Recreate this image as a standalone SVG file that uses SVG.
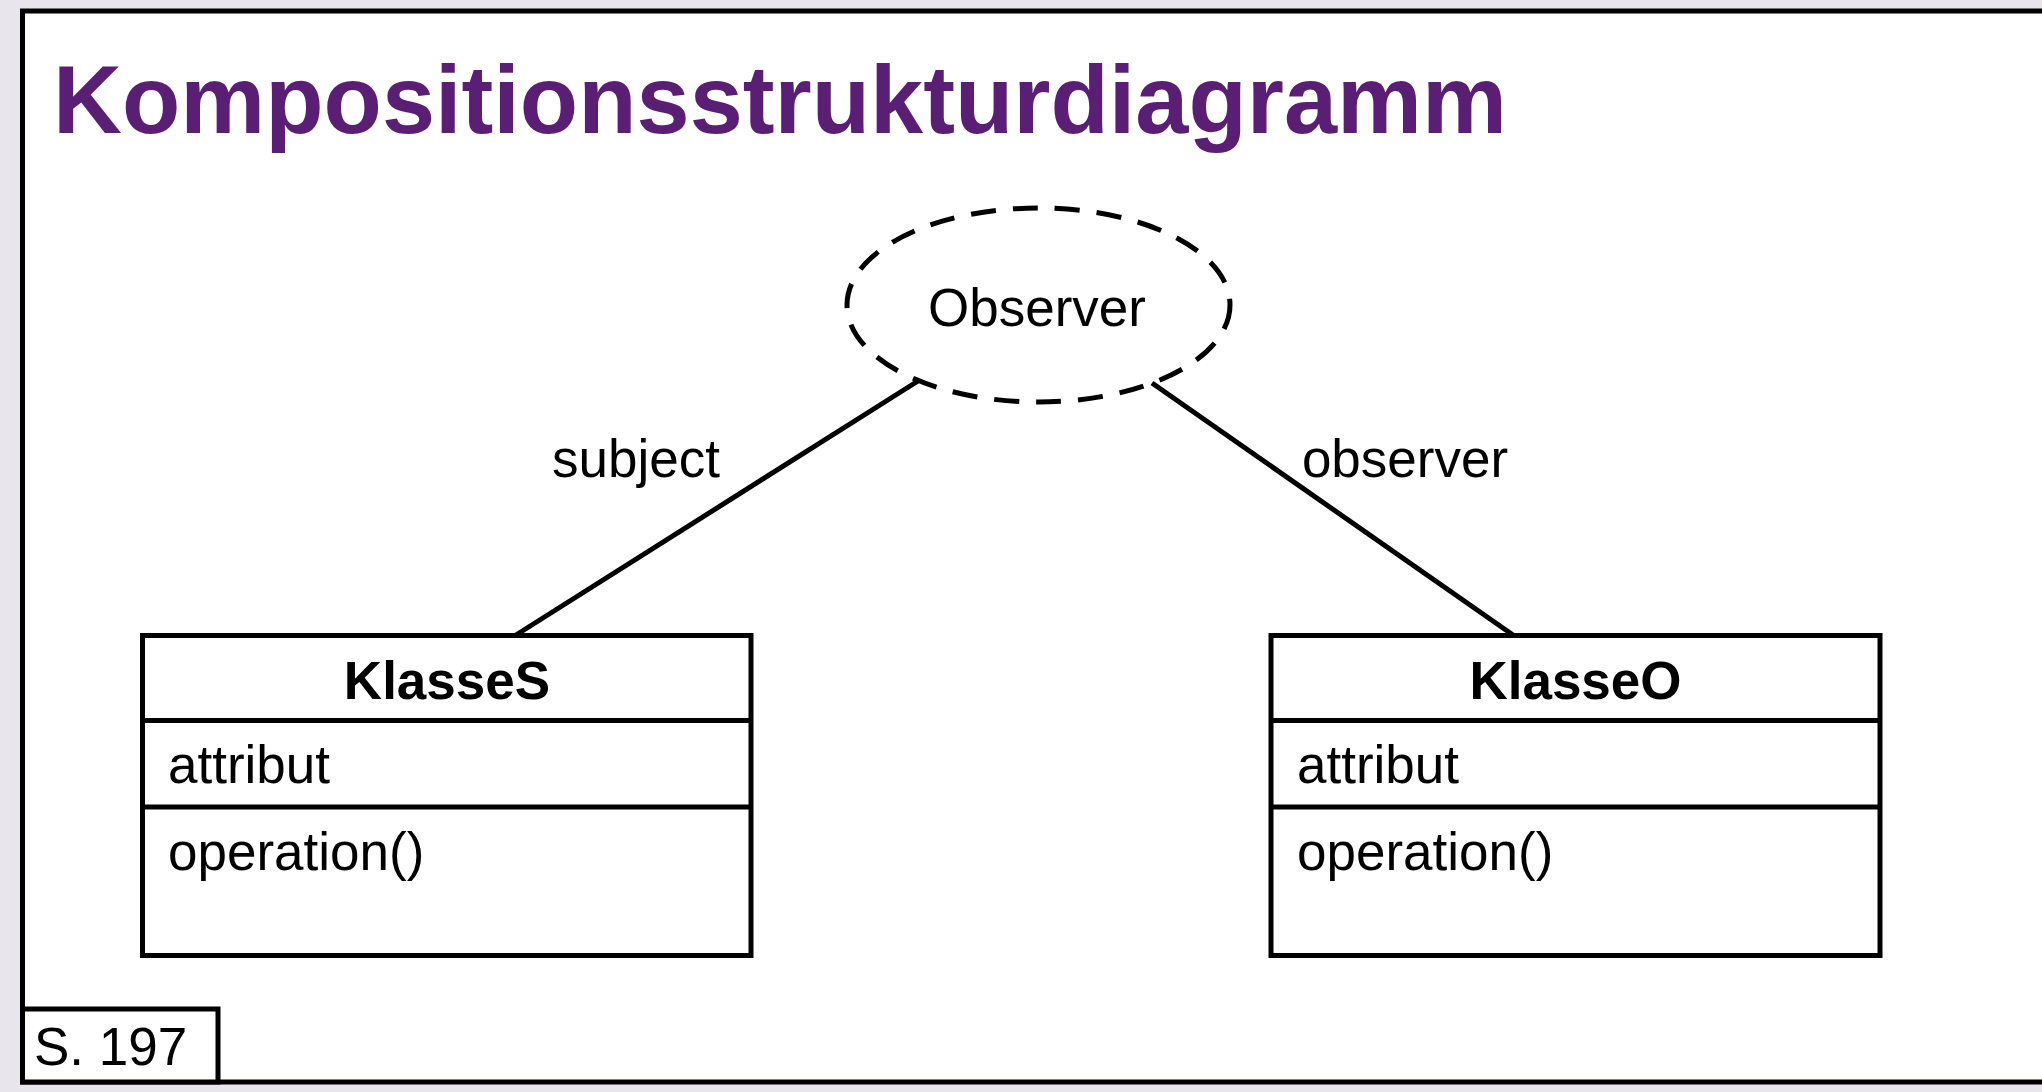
<svg xmlns="http://www.w3.org/2000/svg" width="2042" height="1092" viewBox="0 0 2042 1092">
<style>
.t{font-family:"Liberation Sans",Arial,Helvetica,sans-serif;font-size:53px;fill:#000}
.b{font-weight:bold}
.box{fill:#fff;stroke:#000;stroke-width:5}
.ln{stroke:#000;stroke-width:5;fill:none}
</style>
<rect x="0" y="0" width="2042" height="1092" fill="#e8e6ec"/>
<rect id="frame" x="22.5" y="11" width="2040" height="1071" fill="#fff" stroke="#000" stroke-width="5"/>
<text x="53" y="133" font-family="Liberation Sans,Arial,sans-serif" font-weight="bold" font-size="95.5" fill="#5a1e74">Kompositionsstrukturdiagramm</text>
<g id="connectors">
<line class="ln" x1="918" y1="381" x2="516" y2="635"/>
<line class="ln" x1="1152" y1="383" x2="1513" y2="635"/>
<text class="t" x="636" y="477" text-anchor="middle">subject</text>
<text class="t" x="1405" y="477" text-anchor="middle">observer</text>
</g>
<g id="observer">
<ellipse cx="1038.5" cy="305" rx="191.5" ry="97" fill="none" stroke="#000" stroke-width="5" stroke-dasharray="25 17"/>
<text class="t" x="1037" y="326" text-anchor="middle">Observer</text>
</g>
<g id="klasseS">
<rect class="box" x="142.5" y="635.5" width="608.5" height="320"/>
<line class="ln" x1="142.5" y1="720.5" x2="751" y2="720.5"/>
<line class="ln" x1="142.5" y1="807" x2="751" y2="807"/>
<text class="t b" x="447" y="699" text-anchor="middle">KlasseS</text>
<text class="t" x="168" y="783">attribut</text>
<text class="t" x="168" y="870">operation()</text>
</g>
<g id="klasseO">
<rect class="box" x="1271" y="635.5" width="609" height="320"/>
<line class="ln" x1="1271" y1="720.5" x2="1880" y2="720.5"/>
<line class="ln" x1="1271" y1="807" x2="1880" y2="807"/>
<text class="t b" x="1575.5" y="699" text-anchor="middle">KlasseO</text>
<text class="t" x="1297" y="783">attribut</text>
<text class="t" x="1297" y="870">operation()</text>
</g>
<g id="page">
<rect x="22.5" y="1009" width="195.5" height="73" fill="#fff" stroke="#000" stroke-width="5"/>
<text class="t" x="34" y="1065">S. 197</text>
</g>
</svg>
